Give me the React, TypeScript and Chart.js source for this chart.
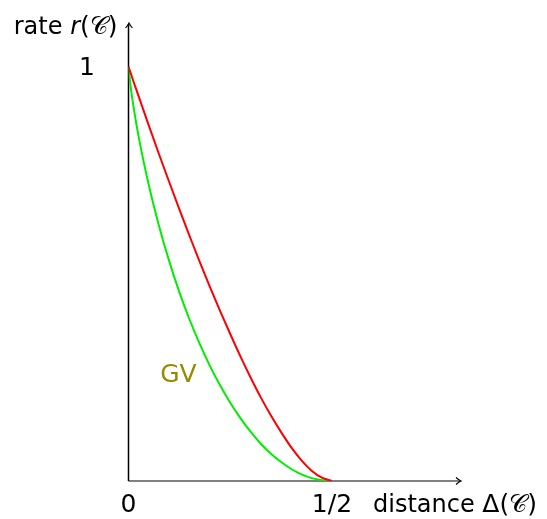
import React, { useEffect, useRef } from "react";
import { Chart, registerables } from "chart.js";

Chart.register(...registerables);

// distance values (x)
const deltas = [0, 0.005, 0.0125, 0.025, 0.05, 0.075, 0.1, 0.125, 0.15, 0.175, 0.2, 0.225, 0.25, 0.275, 0.3, 0.325, 0.35, 0.375, 0.4, 0.425, 0.45, 0.475, 0.5];
// upper (red) curve
const upperRates = [1, 0.986, 0.964, 0.929, 0.858, 0.789, 0.722, 0.656, 0.592, 0.529, 0.469, 0.411, 0.355, 0.301, 0.25, 0.202, 0.158, 0.118, 0.081, 0.05, 0.025, 0.008, 0];
// GV (green) curve
const gvRates = [1, 0.955, 0.903, 0.831, 0.714, 0.616, 0.531, 0.456, 0.39, 0.331, 0.278, 0.231, 0.189, 0.152, 0.119, 0.09, 0.066, 0.046, 0.029, 0.016, 0.007, 0.002, 0];

const xTickValues = [0, 0.5];
const xTickLabels = ["0", "1/2"];
const yTickValues = [1];
const yTickLabels = ["1"];
const gvLabel = "GV";
const gvLabelPos = { x: 0.078, y: 0.24 };

const FONT = '"DejaVu Sans", sans-serif';

type Run = { text: string; font: string };

function drawRuns(ctx: CanvasRenderingContext2D, runs: Run[], x: number, y: number, align: "left" | "right" | "center") {
  let total = 0;
  const widths = runs.map((r) => {
    ctx.font = r.font;
    const w = ctx.measureText(r.text).width;
    total += w;
    return w;
  });
  let cx = align === "left" ? x : align === "right" ? x - total : x - total / 2;
  runs.forEach((r, i) => {
    ctx.font = r.font;
    ctx.textAlign = "left";
    ctx.textBaseline = "alphabetic";
    ctx.fillText(r.text, cx, y);
    cx += widths[i];
  });
}

function arrowHead(ctx: CanvasRenderingContext2D, x: number, y: number, dir: "up" | "right") {
  ctx.beginPath();
  if (dir === "up") {
    ctx.moveTo(x - 3.5, y + 5);
    ctx.quadraticCurveTo(x - 0.8, y + 2, x, y);
    ctx.quadraticCurveTo(x + 0.8, y + 2, x + 3.5, y + 5);
  } else {
    ctx.moveTo(x - 5, y - 3.5);
    ctx.quadraticCurveTo(x - 2, y - 0.8, x, y);
    ctx.quadraticCurveTo(x - 2, y + 0.8, x - 5, y + 3.5);
  }
  ctx.stroke();
}

const axesPlugin = {
  id: "axesPlugin",
  beforeDatasetsDraw(chart: any) {
    const ctx: CanvasRenderingContext2D = chart.ctx;
    const { left, right, top, bottom } = chart.chartArea;
    ctx.save();
    // x axis
    ctx.strokeStyle = "#808080";
    ctx.lineWidth = 2;
    ctx.beginPath();
    ctx.moveTo(left, bottom);
    ctx.lineTo(right - 1, bottom);
    ctx.stroke();
    ctx.strokeStyle = "#000";
    ctx.lineWidth = 1.1;
    arrowHead(ctx, right, bottom, "right");
    // y axis
    ctx.strokeStyle = "#000";
    ctx.lineWidth = 1.5;
    ctx.beginPath();
    ctx.moveTo(left, bottom);
    ctx.lineTo(left, top + 1);
    ctx.stroke();
    ctx.lineWidth = 1.1;
    arrowHead(ctx, left + 0.5, top, "up");
    ctx.restore();
  },
  afterDraw(chart: any) {
    const ctx: CanvasRenderingContext2D = chart.ctx;
    const xs = chart.scales.x;
    const ys = chart.scales.y;
    const { left, top, bottom } = chart.chartArea;
    ctx.save();
    ctx.fillStyle = "#000";
    const base = `24px ${FONT}`;
    const big = `25px ${FONT}`;
    const ital = `oblique 24px ${FONT}`;
    xTickValues.forEach((v, i) => {
      drawRuns(ctx, [{ text: xTickLabels[i], font: big }], xs.getPixelForValue(v), bottom + 31, "center");
    });
    yTickValues.forEach((v, i) => {
      drawRuns(ctx, [{ text: yTickLabels[i], font: big }], left - 41.5, ys.getPixelForValue(v) + 8.5, "center");
    });
    // x axis title
    drawRuns(
      ctx,
      [
        { text: "distance ", font: base },
        { text: "Δ(", font: big },
        { text: "𝒞", font: big },
        { text: ")", font: big },
      ],
      xs.getPixelForValue(0.5) + 41,
      bottom + 31,
      "left"
    );
    // y axis title
    drawRuns(
      ctx,
      [
        { text: "rate ", font: base },
        { text: "r", font: ital },
        { text: "(", font: big },
        { text: "𝒞", font: big },
        { text: ")", font: big },
      ],
      left - 11,
      top + 11,
      "right"
    );
    ctx.fillStyle = "#968b00";
    drawRuns(ctx, [{ text: gvLabel, font: big }], xs.getPixelForValue(gvLabelPos.x), ys.getPixelForValue(gvLabelPos.y), "left");
    ctx.restore();
  },
};

export default function App() {
  const ref = useRef<HTMLCanvasElement | null>(null);
  useEffect(() => {
    if (!ref.current) return;
    const chart = new Chart(ref.current, {
      type: "line",
      data: {
        datasets: [
          {
            label: "upper",
            data: deltas.map((d, i) => ({ x: d, y: upperRates[i] })),
            borderColor: "#ff0000",
            borderWidth: 2,
            pointRadius: 0,
            cubicInterpolationMode: "monotone",
            fill: false,
          },
          {
            label: "GV",
            data: deltas.map((d, i) => ({ x: d, y: gvRates[i] })),
            borderColor: "#00ee00",
            borderWidth: 2,
            pointRadius: 0,
            cubicInterpolationMode: "monotone",
            fill: false,
          },
        ],
      },
      options: {
        animation: false,
        responsive: false,
        layout: { padding: { left: 128.5, right: 86, top: 23, bottom: 38 } },
        plugins: { legend: { display: false }, tooltip: { enabled: false } },
        scales: {
          x: { type: "linear", min: 0, max: 0.817, display: false },
          y: { type: "linear", min: 0, max: 1.106, display: false },
        },
      },
      plugins: [axesPlugin],
    });
    return () => chart.destroy();
  }, []);
  return (
    <canvas
      ref={ref}
      width={547}
      height={519}
      style={{ position: "fixed", left: 0, top: 0, width: 547, height: 519, display: "block" }}
    />
  );
}
